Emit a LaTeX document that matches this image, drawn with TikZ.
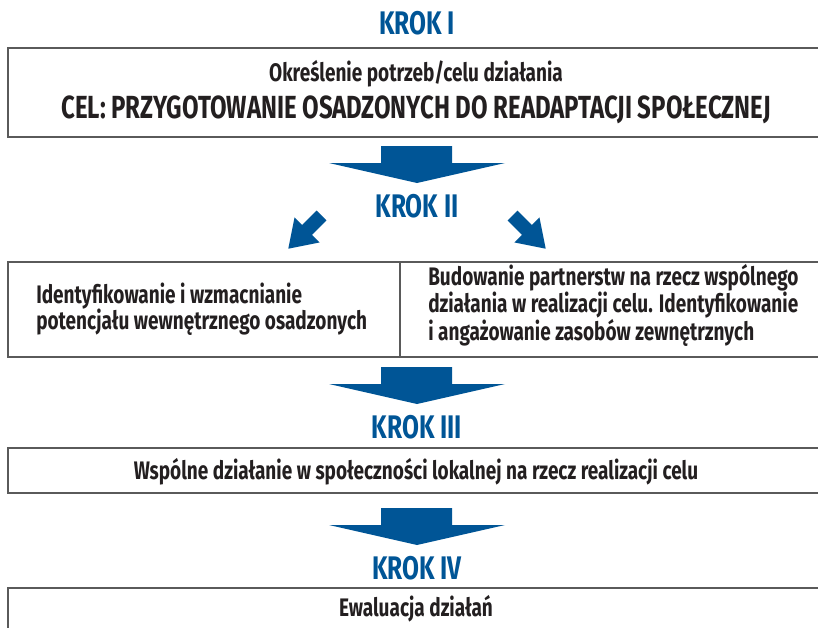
\documentclass[tikz,border=0pt]{standalone}
\usepackage{fontspec}
\setmainfont{Fira Sans}[FakeStretch=0.75]
\definecolor{krokblue}{RGB}{0,85,150}
\definecolor{ramkagray}{RGB}{90,90,90}
\definecolor{tekstdark}{RGB}{35,31,32}
\tikzset{
  krok/.style={text=krokblue, font=\fontsize{24.5}{26}\selectfont\bfseries, inner sep=0.75pt},
  ramka/.style={draw=ramkagray, line width=1.5},
  opis/.style={text=tekstdark, font=\fontsize{19}{19.9}\selectfont\bfseries, inner sep=0.75pt},
  celtxt/.style={text=tekstdark, font=\fontsize{24}{26}\selectfont\bfseries, inner sep=0.75pt},
  blok/.style={fill=krokblue, draw=none},
}
\begin{document}
\begin{tikzpicture}[x=0.75pt,y=0.75pt,yscale=-1,xscale=1]
\useasboundingbox (0,0) rectangle (818,628);

%Shape: Rectangle [krok I]
\draw [ramka] (8,48) rectangle (822,137) ;
%Shape: Arrow
\fill [blok] (381,146) -- (452,146) -- (452,163) -- (505,163) -- (417,183) -- (329,163) -- (381,163) -- cycle ;
%Shape: Arrow left
\fill [blok] (316.55,210.55) -- (326.45,220.45) -- (312.02,234.88) -- (319.59,242.45) -- (288.27,248.73) -- (294.55,217.41) -- (302.12,224.98) -- cycle ;
%Shape: Arrow right
\fill [blok] (517.45,210.55) -- (507.55,220.45) -- (521.98,234.88) -- (514.41,242.45) -- (545.73,248.73) -- (539.45,217.41) -- (531.88,224.98) -- cycle ;
%Shape: Rectangle [krok II]
\draw [ramka] (8,262) rectangle (822,357) ;
%Straight Lines
\draw [ramka] (400,262) -- (400,357) ;
%Shape: Arrow
\fill [blok] (381,367) -- (452,367) -- (452,384) -- (505,384) -- (417,404) -- (329,384) -- (381,384) -- cycle ;
%Shape: Rectangle [krok III]
\draw [ramka] (8,448) rectangle (822,493) ;
%Shape: Arrow
\fill [blok] (381,508) -- (452,508) -- (452,525) -- (505,525) -- (417,545) -- (329,525) -- (381,525) -- cycle ;
%Shape: Rectangle [krok IV]
\draw [ramka] (8,588) rectangle (822,640) ;

% Text Node
\node [krok] (krok1) at (417,23) {KROK I};
% Text Node
\node [opis] (potrzeby) at (416,74) {Określenie potrzeb/celu działania};
% Text Node
\node [celtxt] (cel) at (416,110) {CEL: PRZYGOTOWANIE OSADZONYCH DO READAPTACJI SPOŁECZNEJ};
% Text Node
\node [krok] (krok2) at (417,206) {KROK II};
% Text Node
\node [opis, anchor=west, align=left] (potencjal) at (35,309) {Identyfikowanie i wzmacnianie\\potencjału wewnętrznego osadzonych};
% Text Node
\node [opis, anchor=west, align=left] (partnerstwa) at (427,305.5) {Budowanie partnerstw na rzecz wspólnego\\działania w realizacji celu. Identyfikowanie\\i angażowanie zasobów zewnętrznych};
% Text Node
\node [krok] (krok3) at (417,427) {KROK III};
% Text Node
\node [opis] (wspolne) at (416,472) {Wspólne działanie w społeczności lokalnej na rzecz realizacji celu};
% Text Node
\node [krok] (krok4) at (417,568) {KROK IV};
% Text Node
\node [opis] (ewaluacja) at (416,609) {Ewaluacja działań};

\end{tikzpicture}
\end{document}
